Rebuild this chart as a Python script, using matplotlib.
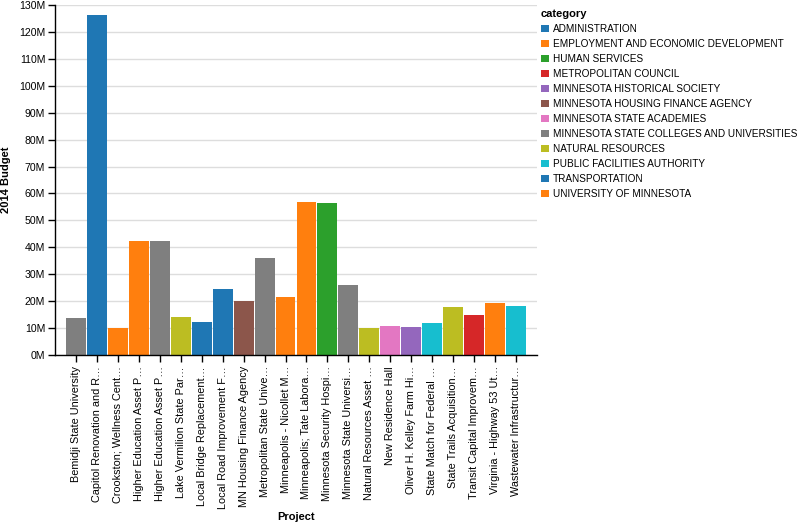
import matplotlib.pyplot as plt
from matplotlib.patches import Patch

plt.rcParams['font.family'] = ['Liberation Sans', 'DejaVu Sans']

# projects as displayed (truncated) on the x axis
projects = [
    'Bemidji State University', 'Capitol Renovation and R…', 'Crookston; Wellness Cent…',
    'Higher Education Asset P…', 'Higher Education Asset P…', 'Lake Vermilion State Par…',
    'Local Bridge Replacement…', 'Local Road Improvement F…', 'MN Housing Finance Agency',
    'Metropolitan State Unive…', 'Minneapolis - Nicollet M…', 'Minneapolis; Tate Labora…',
    'Minnesota Security Hospi…', 'Minnesota State Universi…', 'Natural Resources Asset …',
    'New Residence Hall', 'Oliver H. Kelley Farm Hi…', 'State Match for Federal …',
    'State Trails Acquisition…', 'Transit Capital Improvem…', 'Virginia - Highway 53 Ut…',
    'Wastewater Infrastructur…',
]
budget_m = [13.7, 126.3, 10.0, 42.4, 42.4, 14.1, 12.3, 24.5, 20.1, 36.0, 21.5,
            56.8, 56.4, 26.0, 10.0, 10.7, 10.4, 11.9, 17.8, 14.9, 19.3, 18.2]
project_cat = [
    'MINNESOTA STATE COLLEGES AND UNIVERSITIES', 'ADMINISTRATION', 'UNIVERSITY OF MINNESOTA',
    'UNIVERSITY OF MINNESOTA', 'MINNESOTA STATE COLLEGES AND UNIVERSITIES', 'NATURAL RESOURCES',
    'TRANSPORTATION', 'TRANSPORTATION', 'MINNESOTA HOUSING FINANCE AGENCY',
    'MINNESOTA STATE COLLEGES AND UNIVERSITIES', 'EMPLOYMENT AND ECONOMIC DEVELOPMENT',
    'UNIVERSITY OF MINNESOTA', 'HUMAN SERVICES', 'MINNESOTA STATE COLLEGES AND UNIVERSITIES',
    'NATURAL RESOURCES', 'MINNESOTA STATE ACADEMIES', 'MINNESOTA HISTORICAL SOCIETY',
    'PUBLIC FACILITIES AUTHORITY', 'NATURAL RESOURCES', 'METROPOLITAN COUNCIL',
    'EMPLOYMENT AND ECONOMIC DEVELOPMENT', 'PUBLIC FACILITIES AUTHORITY',
]

categories = [
    'ADMINISTRATION', 'EMPLOYMENT AND ECONOMIC DEVELOPMENT', 'HUMAN SERVICES',
    'METROPOLITAN COUNCIL', 'MINNESOTA HISTORICAL SOCIETY', 'MINNESOTA HOUSING FINANCE AGENCY',
    'MINNESOTA STATE ACADEMIES', 'MINNESOTA STATE COLLEGES AND UNIVERSITIES',
    'NATURAL RESOURCES', 'PUBLIC FACILITIES AUTHORITY', 'TRANSPORTATION', 'UNIVERSITY OF MINNESOTA',
]
cat_colors = ['#1f77b4', '#ff7f0e', '#2ca02c', '#d62728', '#9467bd', '#8c564b',
              '#e377c2', '#7f7f7f', '#bcbd22', '#17becf', '#1f77b4', '#ff7f0e']
color_of = dict(zip(categories, cat_colors))

W, H = 798, 523
fig = plt.figure(figsize=(W / 100, H / 100), dpi=100)
ax = fig.add_axes([55 / W, (H - 355) / H, (537 - 55) / W, 350 / H])

x = range(len(projects))
ax.bar(x, budget_m, width=0.95, color=[color_of[c] for c in project_cat], zorder=2)

ax.set_xlim(-1, len(projects))
ax.set_ylim(0, 130)
yt = list(range(0, 131, 10))
ax.set_yticks(yt, labels=[f'{v}M' for v in yt])
ax.set_xticks(list(x), labels=projects, rotation=90, ha='center', va='top')
ax.tick_params(axis='both', labelsize=7.6, color='black', length=5, width=1)
ax.tick_params(axis='x', labelsize=7.8, pad=3)
ax.tick_params(axis='y', pad=2)
ax.grid(axis='y', color='#dddddd', linewidth=1, zorder=0)
ax.set_axisbelow(True)
for s in ['top', 'right']:
    ax.spines[s].set_visible(False)
ax.spines['left'].set_linewidth(1)
ax.spines['bottom'].set_linewidth(1)

ax.set_ylabel('2014 Budget', fontsize=8, fontweight='bold', va='center')
ax.yaxis.set_label_coords(-(55 - 6) / (537 - 55), 0.5)
ax.set_xlabel('Project', fontsize=8, fontweight='bold', va='center')
ax.xaxis.set_label_coords((296 - 55) / (537 - 55), -(517 - 355) / 350)

handles = [Patch(facecolor=color_of[c], label=c) for c in categories]
leg = fig.legend(handles=handles, loc='upper left', bbox_to_anchor=(541 / W, 1 - 9 / H),
                 frameon=False, fontsize=7.2, title='category', alignment='left',
                 handlelength=0.75, handleheight=0.75, handletextpad=0.42,
                 labelspacing=0.5, borderpad=0, borderaxespad=0)
leg.get_title().set_fontweight('bold')
leg.get_title().set_fontsize(8)

fig.savefig('out.png', dpi=100)
